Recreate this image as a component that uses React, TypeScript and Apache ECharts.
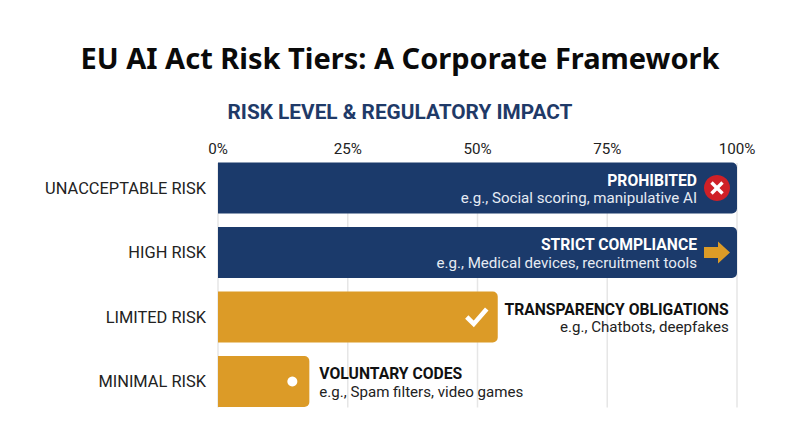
import React, { useEffect, useRef } from "react";
import * as echarts from "echarts";

const chartTitle = "EU AI Act Risk Tiers: A Corporate Framework";
const chartSubtitle = "RISK LEVEL & REGULATORY IMPACT";
const categories = ["UNACCEPTABLE RISK", "HIGH RISK", "LIMITED RISK", "MINIMAL RISK"];
const values = [100, 100, 53.9, 17.6];
const headlines = ["PROHIBITED", "STRICT COMPLIANCE", "TRANSPARENCY OBLIGATIONS", "VOLUNTARY CODES"];
const examples = [
  "e.g., Social scoring, manipulative AI",
  "e.g., Medical devices, recruitment tools",
  "e.g., Chatbots, deepfakes",
  "e.g., Spam filters, video games",
];
const xTicks = [0, 25, 50, 75, 100];

const NAVY = "#1b3a6b";
const GOLD = "#dc9b27";
const FONT = "Roboto";

function iconFor(i: number, x: number, y: number) {
  if (i === 0) {
    const cx = x - 20;
    return [
      { type: "circle", shape: { cx, cy: y, r: 13 }, style: { fill: "#cf2027" } },
      { type: "line", shape: { x1: cx - 5.5, y1: y - 5.5, x2: cx + 5.5, y2: y + 5.5 }, style: { stroke: "#fff", lineWidth: 3.4 } },
      { type: "line", shape: { x1: cx - 5.5, y1: y + 5.5, x2: cx + 5.5, y2: y - 5.5 }, style: { stroke: "#fff", lineWidth: 3.4 } },
    ];
  }
  if (i === 1) {
    const px = x - 33;
    return [
      {
        type: "polygon",
        shape: {
          points: [
            [px, y - 5.5], [px + 14, y - 5.5], [px + 14, y - 11], [px + 26, y],
            [px + 14, y + 11], [px + 14, y + 5.5], [px, y + 5.5],
          ],
        },
        style: { fill: GOLD },
      },
    ];
  }
  if (i === 2) {
    return [
      {
        type: "polyline",
        shape: { points: [[x - 31, y], [x - 24, y + 7], [x - 11, y - 8]] },
        style: { stroke: "#fff", fill: "none", lineWidth: 4.6 },
      },
    ];
  }
  return [{ type: "circle", shape: { cx: x - 17, cy: y, r: 5 }, style: { fill: "#fff" } }];
}

export default function App() {
  const ref = useRef<HTMLDivElement>(null);
  useEffect(() => {
    const chart = echarts.init(ref.current!, undefined, { renderer: "svg" });
    chart.setOption({
      animation: false,
      backgroundColor: "#ffffff",
      title: [
        {
          text: chartTitle,
          left: "center",
          top: 38,
          textStyle: { fontFamily: "Noto Sans", fontWeight: 700, fontSize: 29, color: "#0a0a0a" },
        },
        {
          text: chartSubtitle,
          left: "center",
          top: 96,
          textStyle: { fontFamily: FONT, fontWeight: 700, fontSize: 20.8, color: "#1f3a68" },
        },
      ],
      grid: { left: 218, top: 155.75, width: 519, height: 258 },
      xAxis: {
        type: "value",
        position: "top",
        min: 0,
        max: 100,
        interval: 25,
        axisLine: { show: false },
        axisTick: { show: false },
        splitLine: { show: false },
        axisLabel: {
          formatter: "{value}%",
          fontFamily: FONT,
          fontSize: 15.2,
          color: "#222",
          margin: -1,
        },
      },
      yAxis: {
        type: "category",
        inverse: true,
        data: categories,
        axisLine: { show: false },
        axisTick: { show: false },
        axisLabel: { fontFamily: FONT, fontSize: 16.4, color: "#222", margin: 12, padding: [5, 0, 0, 0] },
      },
      series: [
        {
          type: "custom",
          z: 1,
          silent: true,
          data: xTicks.map((t) => [t]),
          encode: { x: 0 },
          renderItem: (_p: any, api: any) => {
            const x = api.coord([api.value(0), 0])[0];
            const top = api.coord([0, 0])[1] - 25;
            const bottom = api.coord([0, 3])[1] + 26;
            return {
              type: "line",
              shape: { x1: x, y1: top, x2: x, y2: bottom },
              style: { stroke: "#e6e6e6", lineWidth: 1.5 },
            };
          },
        },
        {
          type: "bar",
          z: 2,
          barWidth: 51,
          data: values.map((v, i) => ({ value: v, itemStyle: { color: i < 2 ? NAVY : GOLD } })),
          itemStyle: { borderRadius: [0, 5, 5, 0] },
        },
        {
          type: "custom",
          z: 3,
          silent: true,
          data: values.map((v, i) => [v, i]),
          encode: { x: 0, y: 1 },
          renderItem: (p: any, api: any) => {
            const i = p.dataIndex;
            const [x, y] = api.coord([api.value(0), api.value(1)]);
            const inside = i < 2;
            const tx = inside ? x - 40 : i === 2 ? x + 231 : x + 10;
            const align = i === 3 ? "left" : "right";
            const color = inside ? "#ffffff" : "#111111";
            const exColor = inside ? "#e6ebf3" : "#222222";
            return {
              type: "group",
              children: [
                ...iconFor(i, x, y),
                {
                  type: "text",
                  style: {
                    x: tx, y: y - 8, text: headlines[i], align, verticalAlign: "middle",
                    fill: color, fontFamily: FONT, fontWeight: 700, fontSize: 15.7,
                  },
                },
                {
                  type: "text",
                  style: {
                    x: tx, y: y + 10, text: examples[i], align, verticalAlign: "middle",
                    fill: exColor, fontFamily: FONT, fontSize: 15.1,
                  },
                },
              ],
            };
          },
        },
      ],
    });
    return () => chart.dispose();
  }, []);
  return <div ref={ref} style={{ position: "absolute", left: 0, top: 0, width: 800, height: 447 }} />;
}
